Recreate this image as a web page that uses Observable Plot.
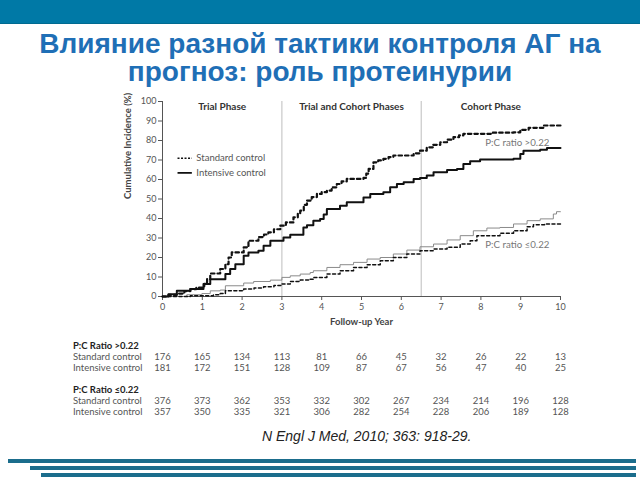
<!DOCTYPE html>
<html>
<head>
<meta charset="utf-8">
<script src="https://cdn.jsdelivr.net/npm/d3@7"></script>
<script src="https://cdn.jsdelivr.net/npm/@observablehq/plot@0.6"></script>
<style>
  html, body { margin: 0; padding: 0; background: #fff; }
  #page { position: relative; width: 640px; height: 480px; overflow: hidden; background: #fff; }
  #band { position: absolute; left: 0; top: 0; width: 640px; height: 23px; background: #0079a6; border-bottom: 1px solid #006a90; }
  #title { position: absolute; left: 0; top: 30px; width: 640px; text-align: center; font-family: "Liberation Sans", Arial, sans-serif; font-weight: bold; font-size: 28px; line-height: 28px; color: #1f6fb6; }
  #chart { position: absolute; left: 0; top: 90px; }
  #table { position: absolute; left: 0; top: 335px; }
  #cite { position: absolute; left: 262px; top: 428px; font-family: "Liberation Sans", sans-serif; font-style: italic; font-size: 14px; color: #222; white-space: nowrap; }
  .bar { position: absolute; height: 4px; background: #1b6d8c; right: 4px; }
</style>
</head>
<body>
<div id="page">
  <div id="band"></div>
  <div id="title">Влияние разной тактики контроля АГ на<br>прогноз: роль протеинурии</div>
  <div id="chart"></div>
  <div id="table"></div>
  <div id="cite">N Engl J Med, 2010; 363: 918-29.</div>
  <div class="bar" style="left:8px; top:459px;"></div>
  <div class="bar" style="left:30px; top:466px;"></div>
  <div class="bar" style="left:41px; top:473px;"></div>
</div>
<script>
// ---- Data ----
const phaseBreaks = [3, 6.5];
const phaseLabels = ["Trial Phase", "Trial and Cohort Phases", "Cohort Phase"];
const phaseCenters = [1.5, 4.75, 8.25];

const highStandard = [[0,0],[0.15,0.8],[0.36,1.5],[0.55,2.8],[0.7,3.8],[0.85,4.6],[1.05,6.5],[1.12,8.9],[1.2,11.8],[1.45,14.1],[1.58,16.6],[1.66,20],[1.74,22.6],[2.04,25.2],[2.16,28.6],[2.41,30.5],[2.55,31.8],[2.66,32.9],[2.8,34.5],[2.96,36.3],[3.1,38],[3.29,40.6],[3.4,42.5],[3.46,44],[3.55,47],[3.63,49.2],[3.75,51],[3.88,52.6],[4.0,53.5],[4.13,54.3],[4.25,56],[4.38,57.7],[4.5,59],[4.63,60.3],[5.05,60.8],[5.12,63],[5.18,65.4],[5.3,68.8],[5.42,69.8],[5.55,70.6],[5.68,71.5],[5.8,72.3],[6.31,73.4],[6.47,74.8],[6.64,76.5],[6.8,77.8],[6.98,79.1],[7.15,80.4],[7.31,81.7],[7.45,82.6],[7.56,83.4],[8.3,84.0],[8.82,84.2],[8.99,85.5],[9.2,86.5],[9.57,87.7],[10,87.7]];
const highIntensive = [[0,0],[0.15,1.2],[0.36,2.9],[0.7,3.8],[1.03,6.4],[1.2,8.9],[1.58,11.5],[1.7,14.1],[1.83,16.6],[2.04,20.9],[2.16,22.6],[2.41,23.5],[2.54,26],[2.71,28.6],[3.04,30.3],[3.21,31.7],[3.54,35.4],[3.63,36.5],[3.79,38.9],[3.96,39.8],[4.05,42],[4.13,44.9],[4.46,46.6],[4.63,48.3],[5.05,50.8],[5.22,52.6],[5.55,53.4],[5.72,56],[5.89,57.7],[6.06,58.6],[6.31,60.3],[6.47,60.8],[6.64,62],[6.81,63.7],[7.15,64.9],[7.4,65.4],[7.56,68],[7.73,69.3],[7.98,70.2],[8.82,70.6],[8.99,73.1],[9.07,74.8],[9.49,75.2],[9.66,76.2],[10,76.2]];
const lowStandard = [[0,0],[0.7,0.4],[1.28,0.9],[1.45,1.5],[1.58,2.9],[2.04,3.8],[2.3,4.4],[2.54,5],[2.8,5.7],[3.0,6.4],[3.21,7.7],[3.46,8.4],[3.71,8.9],[3.79,9.8],[4.13,11.5],[4.46,13.2],[4.8,14.9],[5.14,16.3],[5.47,18.3],[5.8,20],[6.14,21.8],[6.47,23.5],[6.81,24.3],[7.15,25.2],[7.48,26.9],[7.73,28.6],[7.9,31.2],[8.48,32.4],[8.82,33.7],[9.16,35.8],[9.32,36.8],[9.6,37.2],[10,37.5]];
const lowIntensive = [[0,0],[0.61,0.9],[0.99,1.5],[1.2,2.9],[1.45,3.3],[1.58,5.5],[2.04,6.9],[2.29,7.7],[2.71,8.4],[3.0,9.8],[3.21,10.6],[3.46,11.5],[3.71,12.3],[3.79,13.2],[4.13,14.9],[4.46,16.3],[4.8,17.5],[5.14,19.2],[5.47,20],[5.8,21.8],[6.14,23.8],[6.47,25.5],[6.81,26.9],[7.15,29],[7.48,31.2],[7.81,33.7],[8.15,35.1],[8.48,35.4],[8.82,37.2],[9.16,38.9],[9.49,39.8],[9.82,42.3],[9.9,43.5],[10,43.5]];

const legendLabels = ["Standard control", "Intensive control"];
const legendY = [70.9, 63.4];
const curveLabels = ["P:C ratio >0.22", "P:C ratio \u22640.22"];
const curveLabelY = [78.8, 26.5];

const years = [0,1,2,3,4,5,6,7,8,9,10];
const highStdRisk = [176,165,134,113,81,66,45,32,26,22,13];
const highIntRisk = [181,172,151,128,109,87,67,56,47,40,25];
const lowStdRisk = [376,373,362,353,332,302,267,234,214,196,128];
const lowIntRisk = [357,350,335,321,306,282,254,228,206,189,128];
const tableRows = ["h1","s1","i1","gap","h2","s2","i2"];
const tableHeaders = [{row:"h1", text:"P:C Ratio >0.22"}, {row:"h2", text:"P:C Ratio \u22640.22"}];
const tableLabels = [{row:"s1", text:"Standard control"}, {row:"i1", text:"Intensive control"}, {row:"s2", text:"Standard control"}, {row:"i2", text:"Intensive control"}];

const toPts = (arr) => arr.map(([x, y]) => ({x, y}));
const font = "Lato, 'Open Sans', sans-serif";

// ---- Main chart ----
const chart = Plot.plot({
  width: 640, height: 245,
  marginLeft: 162, marginRight: 80, marginTop: 11, marginBottom: 39,
  style: {fontFamily: font, fontSize: "9px", color: "#555", background: "transparent", overflow: "visible"},
  x: {domain: [0, 10], ticks: years, tickSize: 4, tickPadding: 3, label: null},
  y: {domain: [0, 100], ticks: d3.range(0, 101, 10), tickSize: 4, tickPadding: 2, label: null},
  marks: [
    Plot.ruleX(phaseBreaks, {y1: 0, y2: 100, stroke: "#bdbdbd", strokeWidth: 1}),
    Plot.ruleY([0], {stroke: "#555"}),
    Plot.ruleX([0], {stroke: "#555"}),
    Plot.line(toPts(lowIntensive), {x: "x", y: "y", curve: "step-after", stroke: "#8a8a8a", strokeWidth: 1}),
    Plot.line(toPts(lowStandard), {x: "x", y: "y", curve: "step-after", stroke: "#111", strokeWidth: 1.5, strokeDasharray: "3,2.5"}),
    Plot.line(toPts(highIntensive), {x: "x", y: "y", curve: "step-after", stroke: "#111", strokeWidth: 2}),
    Plot.line(toPts(highStandard), {x: "x", y: "y", curve: "step-after", stroke: "#111", strokeWidth: 2.2, strokeDasharray: "3.5,3"}),
    Plot.text(phaseLabels, {x: (d, i) => phaseCenters[i], y: 97.2, text: d => d, fontWeight: "bold", fontSize: 10, fill: "#333"}),
    Plot.ruleY([legendY[0]], {x1: 0.39, x2: 0.75, stroke: "#111", strokeWidth: 1.3, strokeDasharray: "2,1.5"}),
    Plot.ruleY([legendY[1]], {x1: 0.39, x2: 0.75, stroke: "#111", strokeWidth: 1.8}),
    Plot.text(legendLabels, {x: 0.85, y: (d, i) => legendY[i], text: d => d, textAnchor: "start", fontSize: 9.5, fill: "#555"}),
    Plot.text(curveLabels, {x: 8.11, y: (d, i) => curveLabelY[i], text: d => d, textAnchor: "start", fontSize: 9.7, fill: "#777"}),
    Plot.text(["Follow-up Year"], {frameAnchor: "bottom", dy: 28, fontWeight: "bold", fontSize: 9.5, fill: "#444"}),
    Plot.text(["Cumulative Incidence (%)"], {frameAnchor: "left", dx: -35, rotate: -90, fontWeight: "bold", fontSize: 9.5, fill: "#444"})
  ]
});
document.getElementById("chart").appendChild(chart);

// ---- Risk table ----
const riskRows = [
  ["s1", highStdRisk], ["i1", highIntRisk], ["s2", lowStdRisk], ["i2", lowIntRisk]
].flatMap(([row, vals]) => vals.map((v, i) => ({row, x: years[i], v})));

const table = Plot.plot({
  width: 640, height: 85,
  marginLeft: 162, marginRight: 80, marginTop: 9, marginBottom: 9,
  style: {fontFamily: font, fontSize: "9.5px", color: "#555", background: "transparent", overflow: "visible"},
  x: {domain: [0, 10], axis: null},
  y: {type: "point", domain: tableRows, axis: null, padding: 0},
  marks: [
    Plot.text(tableHeaders, {x: -2.25, y: "row", text: "text", textAnchor: "start", fontWeight: "bold", fill: "#222", fontSize: 9.5}),
    Plot.text(tableLabels, {x: -2.25, y: "row", text: "text", textAnchor: "start", fill: "#555", fontSize: 9.5}),
    Plot.text(riskRows, {x: "x", y: "row", text: d => String(d.v), fill: "#555", fontSize: 9.5})
  ]
});
document.getElementById("table").appendChild(table);
</script>
</body>
</html>
